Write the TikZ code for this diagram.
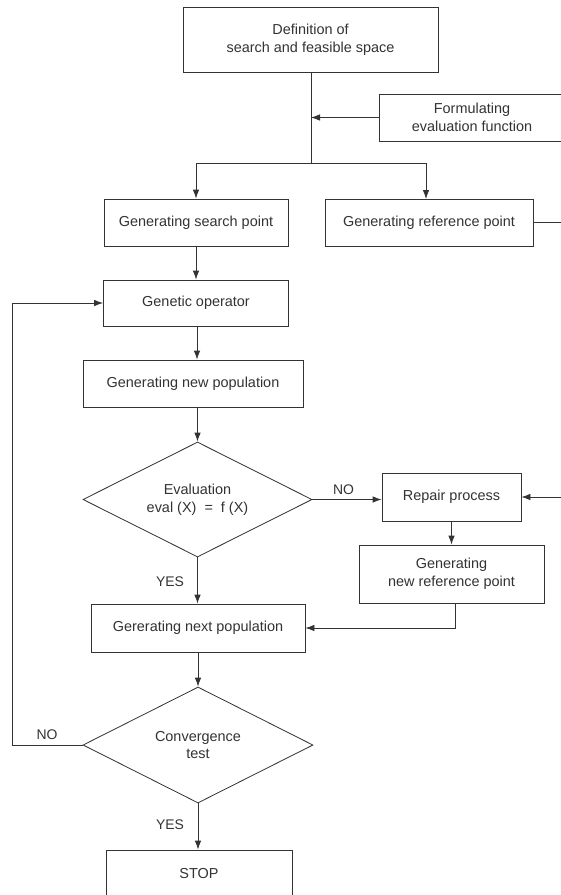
\documentclass[tikz,border=0pt]{standalone}
\usepackage{fontspec}
\setmainfont{Liberation Sans}
\usetikzlibrary{shapes.geometric,arrows.meta}
\begin{document}
\begin{tikzpicture}[x=1bp,y=-1bp,
  every node/.style={font=\fontsize{14.5}{18}\selectfont, text=black!80, align=center},
  procbox/.style={draw=black!80, line width=0.8bp, inner sep=0pt},
  decbox/.style={draw=black!80, line width=0.8bp, diamond, aspect=2, inner sep=0pt},
  line/.style={draw=black!80, line width=0.8bp},
  arr/.style={line, -{Latex[length=9bp,width=6.5bp]}},
  lbl/.style={font=\fontsize{14}{16}\selectfont}
]
\useasboundingbox (0,0) rectangle (561,895);
\clip (0,0) rectangle (561,895);
\fill[white] (0,0) rectangle (561,895);

\node[procbox, minimum width=255bp, minimum height=65bp] (def) at (310.5,39.5) {Definition of\\search and feasible space};
\node[procbox, minimum width=186bp, minimum height=47bp] (form) at (472,117.5) {Formulating\\evaluation function};
\node[procbox, minimum width=184bp, minimum height=47bp] (search) at (196,222.5) {Generating search point};
\node[procbox, minimum width=208bp, minimum height=47bp] (ref) at (429,222.5) {Generating reference point};
\node[procbox, minimum width=185bp, minimum height=46bp] (gen) at (196,303) {Genetic operator};
\node[procbox, minimum width=220bp, minimum height=47bp] (newpop) at (193,383.5) {Generating new population};
\node[decbox, minimum width=229bp, minimum height=115bp] (eval) at (197.5,499.5) {Evaluation\\eval (X) \ = \ f (X)};
\node[procbox, minimum width=139bp, minimum height=48bp] (repair) at (451.5,497) {Repair process};
\node[procbox, minimum width=185bp, minimum height=58bp] (newref) at (451.5,574) {Generating\\new reference point};
\node[procbox, minimum width=214bp, minimum height=48bp] (next) at (198,628) {Gererating next population};
\node[decbox, minimum width=230bp, minimum height=116bp] (conv) at (198,745) {Convergence\\test};
\node[procbox, minimum width=186bp, minimum height=48bp] (stop) at (199,874) {STOP};

\coordinate (j1) at (311,163);
\coordinate (refout) at (562,222.5);
\coordinate (repin) at (562,497);

\draw[line] (def.south -| j1) -- (j1);
\draw[arr] (form.west) -- (form.west -| j1);
\draw[arr] (j1) -| (search.north);
\draw[arr] (j1) -| (426,199);
\draw[arr] (search.south) -- (gen.north);
\draw[arr] (gen.south -| 197,0) -- (newpop.north -| 197,0);
\draw[arr] (newpop.south -| eval.north) -- (eval.north);
\draw[arr] (eval.east) -- node[lbl, above=1bp, pos=0.45] {NO} (eval.east -| repair.west);
\draw[line] (ref.east) -- (refout);
\draw[arr] (repin) -- (repair.east);
\draw[arr] (repair.south) -- (newref.north);
\draw[arr] (newref.south -| 455,0) |- (next.east);
\draw[arr] (eval.south) -- (next.north -| eval.south);
\node[lbl] (yes1) at (170,582) {YES};
\draw[arr] (next.south) -- (conv.north);
\draw[arr] (conv.west) -- ++(-70,0) |- (gen.west);
\node[lbl] (no2) at (47,735) {NO};
\draw[arr] (conv.south) -- (conv.south |- stop.north);
\node[lbl] (yes2) at (170,825) {YES};
\end{tikzpicture}
\end{document}
